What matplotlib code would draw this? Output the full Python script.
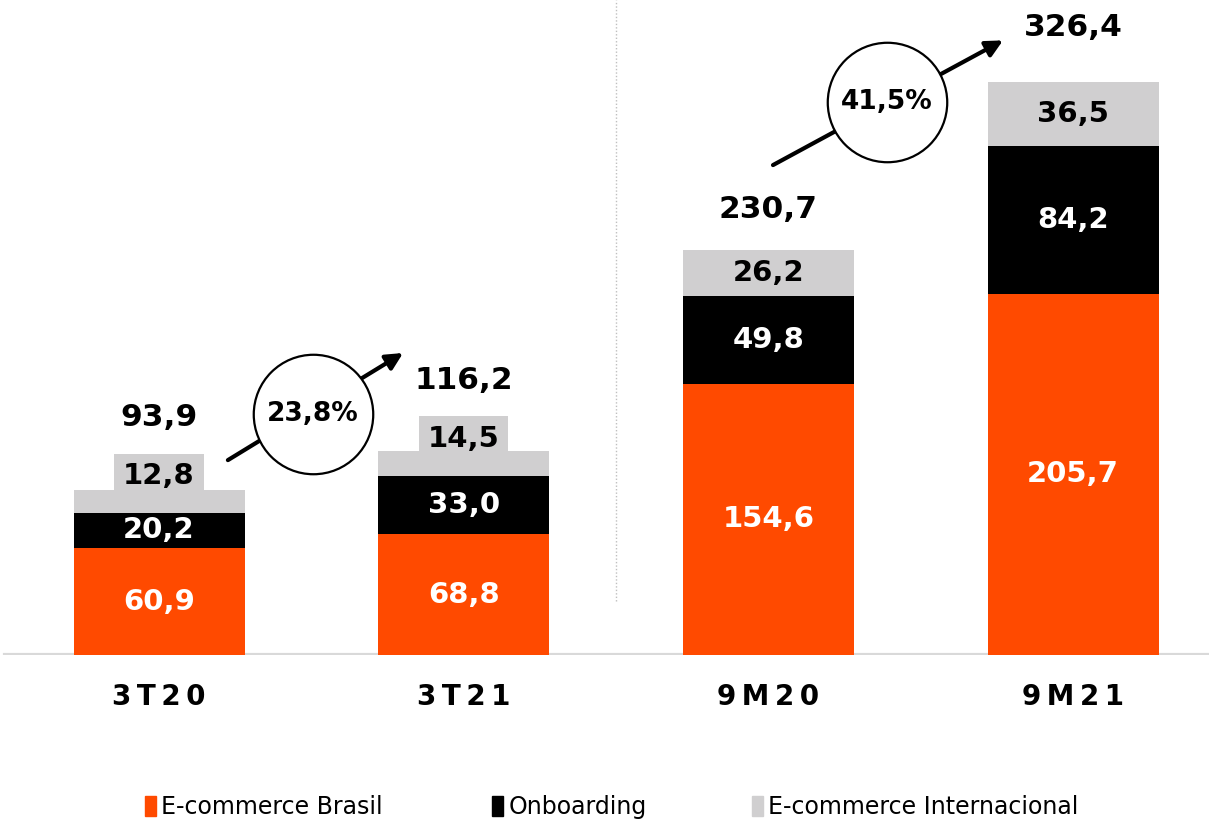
import matplotlib
matplotlib.use("Agg")
import matplotlib.pyplot as plt
from matplotlib.patches import Patch

periods = ["3T20", "3T21", "9M20", "9M21"]
brasil = [60.9, 68.8, 154.6, 205.7]
onboarding = [20.2, 33.0, 49.8, 84.2]
internacional = [12.8, 14.5, 26.2, 36.5]
totals = [93.9, 116.2, 230.7, 326.4]
growth_labels = ["23,8%", "41,5%"]
series_names = ["E-commerce Brasil", "Onboarding", "E-commerce Internacional"]

ORANGE = "#FF4A00"
BLACK = "#000000"
GREY = "#D0CFD0"

def fmt(v):
    return f"{v:.1f}".replace(".", ",")

fig = plt.figure(figsize=(12.09, 8.25), dpi=100)
ax = fig.add_axes([0, 0.206, 1, 0.794])
x = list(range(len(periods)))
w = 0.561

ax.bar(x, brasil, w, color=ORANGE, zorder=2)
ax.bar(x, onboarding, w, bottom=brasil, color=BLACK, zorder=2)
bottom2 = [a + b for a, b in zip(brasil, onboarding)]
ax.bar(x, internacional, w, bottom=bottom2, color=GREY, zorder=2)

lab = dict(ha="center", va="center", fontsize=21, fontweight="bold", zorder=4)
for i in x:
    ax.text(i, brasil[i] / 2, fmt(brasil[i]), color="white", **lab)
    ax.text(i, brasil[i] + onboarding[i] / 2, fmt(onboarding[i]), color="white", **lab)
    yc = bottom2[i] + internacional[i] / 2
    if internacional[i] < 20:
        # small segment: label lifted above, on its own grey box
        ax.annotate(fmt(internacional[i]), (i, yc), xytext=(0, 18), textcoords="offset points",
                    color="black", bbox=dict(boxstyle="square,pad=0.3", fc=GREY, ec="none"), **lab)
    else:
        ax.text(i, yc, fmt(internacional[i]), color="black", **lab)

# total labels above bars
tot_off = [52, 51, 29, 39]
for i in x:
    ax.annotate(fmt(totals[i]), (i, totals[i]), xytext=(0, tot_off[i]), textcoords="offset points",
                ha="center", va="center", fontsize=22.5, fontweight="bold", color="black")

# growth arrows with circles
arrows = [((0.226, 111), (0.801, 172), (0.505, 137)),
          ((2.015, 279), (2.770, 350), (2.389, 315))]
for (start, end, ctr), g in zip(arrows, growth_labels):
    ax.annotate("", xy=end, xytext=start,
                arrowprops=dict(arrowstyle="-|>,head_length=1.0,head_width=0.5", color="black", lw=3,
                                shrinkA=0, shrinkB=0), zorder=3)
    ax.scatter([ctr[0]], [ctr[1]], s=7400, facecolor="white", edgecolor="black", lw=1.6, zorder=4)
    ax.text(ctr[0], ctr[1], g, ha="center", va="center", fontsize=19, fontweight="bold", zorder=5)

ax.vlines(1.5, 31, 373, colors="#BFBFBF", linestyles=(0, (1, 1.5)), lw=1)
ax.axhline(0, xmin=5 / 1209, xmax=1, color="#D9D9D9", lw=3, zorder=1)

ax.set_xlim(-0.522, 3.446)
ax.set_ylim(0, 373)
ax.set_xticks(x)
ax.set_xticklabels(["\u2009".join(p) for p in periods], fontsize=20, fontweight="bold")
ax.tick_params(axis="x", length=0, pad=20)
ax.set_yticks([])
for s in ax.spines.values():
    s.set_visible(False)

# legend entries placed one by one along the bottom
colors = [ORANGE, BLACK, GREY]
leg_x = [0.104, 0.391, 0.606]
for name, c, lx in zip(series_names, colors, leg_x):
    fig.legend([Patch(color=c)], [name], loc="lower left", bbox_to_anchor=(lx, -0.016),
               frameon=False, handlelength=0.5, handleheight=0.9, handletextpad=0.2,
               borderpad=0.3, prop=dict(family=["Liberation Sans Narrow", "DejaVu Sans"], size=17))

fig.savefig("out.png", dpi=100, facecolor="white")
